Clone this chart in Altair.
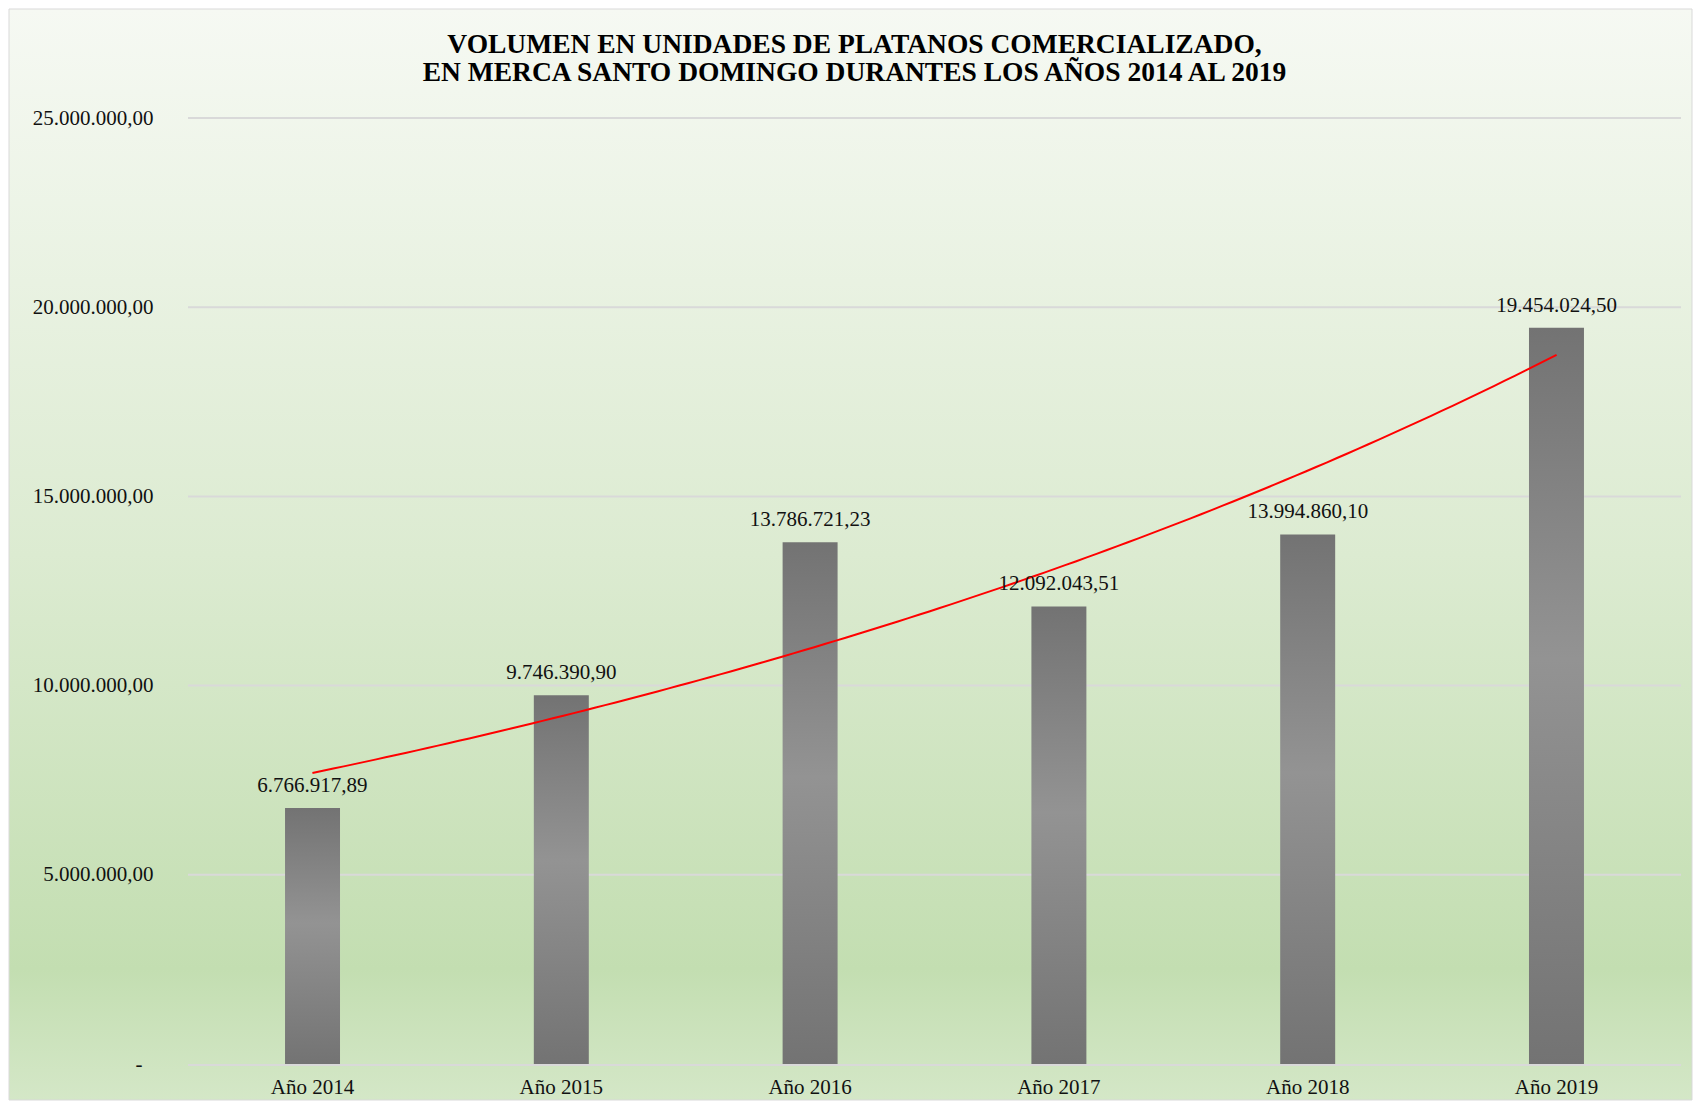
import altair as alt
import numpy as np
import pandas as pd

years = ["Año 2014", "Año 2015", "Año 2016", "Año 2017", "Año 2018", "Año 2019"]
values = [6766917.89, 9746390.90, 13786721.23, 12092043.51, 13994860.10, 19454024.50]
positions = [1, 2, 3, 4, 5, 6]
y_ticks = [0, 5000000, 10000000, 15000000, 20000000, 25000000]
title_lines = [
    "VOLUMEN EN UNIDADES DE PLATANOS COMERCIALIZADO,",
    "EN MERCA SANTO DOMINGO DURANTES LOS AÑOS 2014 AL 2019",
]

df = pd.DataFrame({"year": years, "value": values, "pos": positions})
grid_df = pd.DataFrame({"value": y_ticks[1:]})
bg_df = pd.DataFrame({"k": [0]})

# Exponential trendline (least squares on ln(y), as in a spreadsheet trendline)
slope, intercept = np.polyfit(np.array(positions, float), np.log(values), 1)
t = np.linspace(positions[0], positions[-1], 120)
trend_df = pd.DataFrame({"pos": t, "value": np.exp(intercept + slope * t)})

W, H = 1493, 946
FONT = "Liberation Serif"
TXT = "#111111"

bg_fill = {
    "gradient": "linear", "x1": 0, "y1": 0, "x2": 0, "y2": 1,
    "stops": [
        {"offset": 0, "color": "#f6f9f3"},
        {"offset": 0.5, "color": "#dcebd1"},
        {"offset": 0.88, "color": "#c3deb1"},
        {"offset": 1, "color": "#d4e7c7"},
    ],
}
bar_fill = {
    "gradient": "linear", "x1": 0, "y1": 0, "x2": 0, "y2": 1,
    "stops": [
        {"offset": 0, "color": "#737373"},
        {"offset": 0.45, "color": "#939393"},
        {"offset": 1, "color": "#737373"},
    ],
}

y_scale = alt.Scale(domain=[0, 25000000], nice=False)

y_axis_enc = alt.Y(
    "value:Q",
    scale=y_scale,
    axis=alt.Axis(
        values=y_ticks, format=",.2f",
        labelExpr="datum.value == 0 ? '-' : datum.label",
        grid=False, domain=False, ticks=False, zindex=1,
        labelPadding={"condition": {"test": "datum.value == 0", "value": 46}, "value": 35},
        labelFont=FONT, labelFontSize=21, labelColor=TXT, title=None,
    ),
)
y_plain = alt.Y("value:Q", scale=y_scale, title=None)

x_scale = alt.Scale(paddingInner=0.779, paddingOuter=0.39)
x_enc = alt.X(
    "year:N", sort=years, scale=x_scale,
    axis=alt.Axis(
        title=None, labelAngle=0, ticks=False, domain=False,
        labelPadding=12, labelFont=FONT, labelFontSize=21,
        labelColor=TXT, zindex=1,
    ),
)
x_plain = alt.X("year:N", sort=years, scale=x_scale, axis=None)

bg = alt.Chart(bg_df).mark_rect(
    fill=bg_fill, stroke="#d9d9d9", strokeWidth=1
).encode(
    x=alt.value(-179), x2=alt.value(1504), y=alt.value(-109), y2=alt.value(982)
)

grid = alt.Chart(grid_df).mark_rule(color="#d9d9d9", strokeWidth=2).encode(
    y=y_plain, x=alt.value(0), x2=alt.value(W),
)

xaxis_line = alt.Chart(bg_df).mark_rule(color="#d9d9d9", strokeWidth=2).encode(
    x=alt.value(0), x2=alt.value(W), y=alt.value(H + 1),
)

bars = alt.Chart(df).mark_bar(fill=bar_fill).encode(x=x_enc, y=y_axis_enc)

trend = alt.Chart(trend_df).mark_line(color="#ff0000", strokeWidth=2).encode(
    x=alt.X("pos:Q", scale=alt.Scale(domain=[0.5, 6.5], nice=False, zero=False), axis=None),
    y=y_plain,
)

labels = alt.Chart(df).mark_text(
    font=FONT, fontSize=21, color=TXT, baseline="alphabetic", dy=-16
).encode(
    x=x_plain, y=y_plain,
    text=alt.Text("value:Q", format=",.2f"),
)

chart = alt.layer(bg, grid, xaxis_line, bars, trend, labels).resolve_scale(
    x="independent"
).properties(
    width=W, height=H, padding=0, background="#ffffff",
    title=alt.TitleParams(
        text=title_lines, font=FONT, fontSize=27.5, fontWeight="bold",
        color="#000000", anchor="middle", dx=-80, offset=-78, lineHeight=28,
    ),
).configure_view(stroke=None).configure(
    locale={"number": {"decimal": ",", "thousands": ".", "grouping": [3], "currency": ["", ""]}}
)

chart.save("out.html", embed_options={"renderer": "svg", "actions": False})
